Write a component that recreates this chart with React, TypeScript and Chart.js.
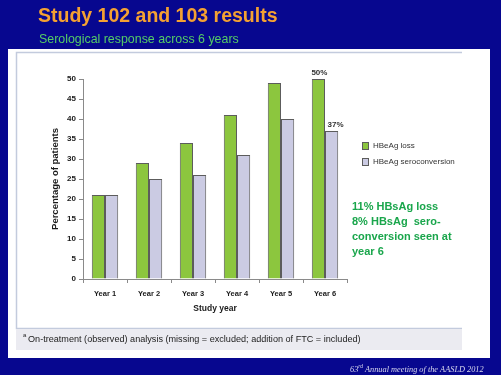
import React, { useEffect, useRef } from "react";
import { Chart, registerables } from "chart.js";

Chart.register(...registerables);

const categories = ["Year 1", "Year 2", "Year 3", "Year 4", "Year 5", "Year 6"];
const hbeagLoss = [21, 29, 34, 41, 49, 50];
const hbeagSeroconversion = [21, 25, 26, 31, 40, 37];
const seriesNames = ["HBeAg loss", "HBeAg seroconversion"];
const yTicks = { min: 0, max: 50, step: 5 };
const titleText = "Study 102 and 103 results";
const subtitleText = "Serological response across 6 years";
const yAxisTitle = "Percentage of patients";
const xAxisTitle = "Study year";
const annotationLines = ["11% HBsAg loss", "8% HBsAg  sero-", "conversion seen at", "year 6"];
const footnoteText = "On-treatment (observed) analysis (missing = excluded; addition of FTC = included)";
const barLabels: { dataset: number; index: number; text: string; dx: number }[] = [
  { dataset: 0, index: 5, text: "50%", dx: 1 },
  { dataset: 1, index: 5, text: "37%", dx: 4 },
];

const BLUE = "#07078f";
const GREEN = "#8cc63e";
const LAVENDER = "#cbcbe3";
const BAR_BORDER = "#5c5c5c";
const SANS = "'Liberation Sans', Arial, sans-serif";
const SERIF = "'Liberation Serif', 'Times New Roman', serif";

const slidePlugin = {
  id: "slide",
  beforeDraw(chart: any) {
    const ctx = chart.ctx as CanvasRenderingContext2D;
    const W = chart.width;
    const H = chart.height;
    ctx.save();
    ctx.fillStyle = BLUE;
    ctx.fillRect(0, 0, W, H);
    // white panel
    ctx.fillStyle = "#ffffff";
    ctx.fillRect(8, 49, 482, 309);
    // inner frame (left, top, bottom)
    ctx.strokeStyle = "#c3cbdd";
    ctx.lineWidth = 1.5;
    ctx.beginPath();
    ctx.moveTo(462, 52.5);
    ctx.lineTo(16.5, 52.5);
    ctx.lineTo(16.5, 328.5);
    ctx.lineTo(462, 328.5);
    ctx.stroke();
    // footnote box
    ctx.fillStyle = "#ebebf1";
    ctx.fillRect(16, 329, 446, 21);
    // title
    ctx.fillStyle = "#f4a132";
    ctx.font = `bold 19.5px ${SANS}`;
    ctx.textBaseline = "alphabetic";
    ctx.textAlign = "left";
    ctx.fillText(titleText, 38, 22);
    ctx.fillStyle = "#55cc66";
    ctx.font = `12.4px ${SANS}`;
    ctx.fillText(subtitleText, 39, 43);
    // footnote
    ctx.fillStyle = "#222222";
    ctx.font = `6px ${SANS}`;
    ctx.fillText("a", 23, 337);
    ctx.font = `9.1px ${SANS}`;
    ctx.fillText(footnoteText, 28, 341.5);
    // bottom-right citation
    ctx.fillStyle = "#d8d8ee";
    ctx.font = `italic 8.3px ${SERIF}`;
    let x = 350;
    ctx.fillText("63", x, 372);
    x += ctx.measureText("63").width;
    ctx.font = `italic 5.5px ${SERIF}`;
    ctx.fillText("rd", x, 368);
    x += ctx.measureText("rd").width + 2;
    ctx.font = `italic 8.3px ${SERIF}`;
    ctx.fillText("Annual meeting of the AASLD 2012", x, 372);
    ctx.restore();
  },
  afterDraw(chart: any) {
    const ctx = chart.ctx as CanvasRenderingContext2D;
    ctx.save();
    // value labels
    ctx.fillStyle = "#333333";
    ctx.font = `bold 8px ${SANS}`;
    ctx.textAlign = "center";
    ctx.textBaseline = "alphabetic";
    barLabels.forEach((l) => {
      const el = chart.getDatasetMeta(l.dataset).data[l.index];
      ctx.fillText(l.text, el.x + l.dx, el.y - 4);
    });
    // legend
    const colors = [GREEN, LAVENDER];
    const legendY = [146, 162];
    ctx.textAlign = "left";
    ctx.textBaseline = "middle";
    ctx.font = `8px ${SANS}`;
    seriesNames.forEach((name, i) => {
      ctx.fillStyle = colors[i];
      ctx.fillRect(362.5, legendY[i] - 3.5, 6, 7);
      ctx.strokeStyle = BAR_BORDER;
      ctx.lineWidth = 1;
      ctx.strokeRect(362.5, legendY[i] - 3.5, 6, 7);
      ctx.fillStyle = "#333333";
      ctx.fillText(name, 373, legendY[i]);
    });
    // annotation
    ctx.fillStyle = "#1aa64c";
    ctx.font = `bold 11px ${SANS}`;
    annotationLines.forEach((line, i) => {
      ctx.fillText(line, 352, 207 + i * 15);
    });
    ctx.restore();
  },
};

export default function App() {
  const ref = useRef<HTMLCanvasElement | null>(null);
  useEffect(() => {
    if (!ref.current) return;
    const chart = new Chart(ref.current, {
      type: "bar",
      data: {
        labels: categories,
        datasets: [
          {
            label: seriesNames[0],
            data: hbeagLoss,
            backgroundColor: GREEN,
            borderColor: BAR_BORDER,
            borderWidth: 1,
            categoryPercentage: 0.6,
            barPercentage: 1.0,
          },
          {
            label: seriesNames[1],
            data: hbeagSeroconversion,
            backgroundColor: LAVENDER,
            borderColor: BAR_BORDER,
            borderWidth: 1,
            categoryPercentage: 0.6,
            barPercentage: 1.0,
          },
        ],
      },
      options: {
        responsive: false,
        animation: false,
        layout: { padding: { left: 50, top: 79, right: 154, bottom: 56 } },
        plugins: {
          legend: { display: false },
          tooltip: { enabled: false },
        },
        scales: {
          x: {
            afterFit: (s: any) => {
              s.height = 40;
            },
            grid: { drawOnChartArea: false, drawTicks: true, tickLength: 4, color: "#8a8a8a", offset: true },
            border: { display: true, color: "#8a8a8a" },
            ticks: { color: "#1a1a1a", font: { family: SANS, size: 7.5, weight: "bold" }, padding: 6 },
            title: {
              display: true,
              text: xAxisTitle,
              color: "#1a1a1a",
              font: { family: SANS, size: 8.5, weight: "bold" },
              padding: { top: 0, bottom: 5 },
            },
          },
          y: {
            min: yTicks.min,
            max: yTicks.max,
            afterFit: (s: any) => {
              s.width = 33;
            },
            grid: { drawOnChartArea: false, drawTicks: true, tickLength: 4, color: "#8a8a8a" },
            border: { display: true, color: "#8a8a8a" },
            ticks: { stepSize: yTicks.step, color: "#1a1a1a", font: { family: SANS, size: 8, weight: "bold" }, padding: 3 },
            title: {
              display: true,
              text: yAxisTitle,
              color: "#1a1a1a",
              font: { family: SANS, size: 9.5, weight: "bold" },
              padding: 0,
            },
          },
        },
      },
      plugins: [slidePlugin],
    } as any);
    return () => chart.destroy();
  }, []);
  return (
    <div style={{ position: "fixed", left: 0, top: 0, width: 501, height: 375 }}>
      <canvas ref={ref} width={501} height={375} style={{ width: 501, height: 375, display: "block" }} />
    </div>
  );
}
